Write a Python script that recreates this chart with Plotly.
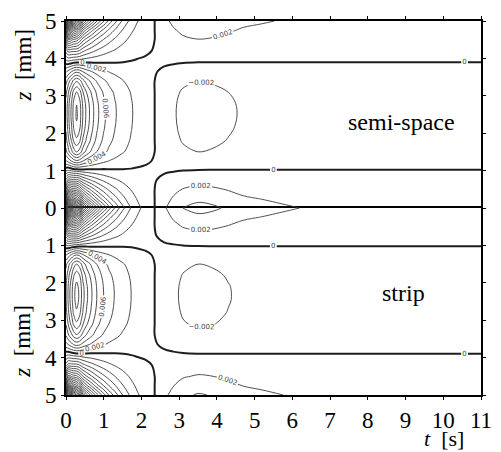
import numpy as np
import plotly.graph_objects as go

# ---- data (contour field factors) ----
t_nodes = [0, 0.05, 0.1, 0.15, 0.2, 0.28, 0.36, 0.45, 0.55, 0.68, 0.82, 1.0, 1.15, 1.3,
           1.5, 1.73, 1.9, 2.1, 2.35, 2.6, 2.85, 3.1, 3.5, 3.9, 4.3, 4.7, 5.2, 6, 7, 8, 9, 10, 11]
A_interior = [0.010, 0.012, 0.014, 0.0155, 0.0175, 0.019, 0.0178, 0.0148, 0.0125, 0.0102, 0.008,
              0.006, 0.0048, 0.0039, 0.0029, 0.002, 0.0014, 0.0008, 0.0, -0.001, -0.0017, -0.0023,
              -0.0027, -0.0025, -0.0021, -0.0017, -0.0015, -0.0012, -0.0009, -0.0007, -0.0006,
              -0.0005, -0.0004]
B_boundary = [0.03, 0.04, 0.035, 0.026, 0.018, 0.012, 0.009, 0.0075, 0.0073, 0.007, 0.0065,
              0.0055, 0.0042, 0.003, 0.0015, 0.0003, 0, 0, 0, 0, 0, 0, 0, 0, 0, 0, 0, 0, 0, 0,
              0, 0, 0]
C_saddle = [0, 0, 0, 0, 0, 0, 0, 0, 0, 0, 0, 0, 0, 0, 0.1, 0.4, 0.7, 0.9, 1.0, 0.9,
            0.6, 0.3, 0.05, 0, 0, 0, 0, 0, 0, 0, 0, 0, 0]

z_nodes = [0, 0.25, 0.5, 0.75, 1.02, 1.25, 1.5, 1.8, 2.1, 2.45, 2.8, 3.1, 3.4, 3.65, 3.9,
           4.2, 4.5, 4.75, 5.0]
g_semi = [-1.75, -1.3, -0.9, -0.48, 0.0, 0.4, 0.74, 0.92, 1.02, 1.07, 1.05, 0.95, 0.72, 0.4,
          0.0, -0.38, -0.72, -1.05, -1.45]
g_strip = [-1.75, -1.3, -0.9, -0.5, 0.0, 0.42, 0.74, 0.9, 0.98, 0.99, 0.93, 0.82, 0.62, 0.36,
           0.0, -0.4, -0.8, -1.15, -1.55]
h_boundary = [-1.0, -0.55, -0.28, -0.12, -0.04, -0.01, 0, 0, 0, 0, 0, 0, 0, -0.01, -0.03,
              -0.1, -0.28, -0.55, -1.0]
k_saddle = [0, 0, 0, -0.0001, -0.00028, -0.00012, 0, 0, 0, 0, 0, 0, 0, 0.00012, 0.00028,
            0.0001, 0, 0, 0]

x_ticks = list(range(0, 12))
z_ticks_top = [0, 1, 2, 3, 4, 5]
z_ticks_bottom = [1, 2, 3, 4, 5]

Z_semi = (np.outer(g_semi, A_interior) + np.outer(h_boundary, B_boundary)
          + np.outer(k_saddle, C_saddle))
Z_strip = (np.outer(g_strip, A_interior) + np.outer(h_boundary, B_boundary)
           + np.outer(k_saddle, C_saddle))

LINE = "#3c3c3c"
SERIF = "Liberation Serif, DejaVu Serif, Times New Roman, serif"


def traces(Z, xa, ya):
    specs = [
        dict(start=-0.09, end=-0.0039, labels=False, width=0.9, fmt=".3f"),
        dict(start=-0.002, end=-0.0019, labels=True, width=0.9, fmt=".3f"),
        dict(start=0.002, end=0.0061, labels=True, width=0.9, fmt=".3f"),
        dict(start=0.008, end=0.05, labels=False, width=0.9, fmt=".3f"),
        dict(start=0.0, end=0.0005, labels=True, width=2.0, fmt=".0f"),
    ]
    out = []
    for s in specs:
        out.append(go.Contour(
            x=t_nodes, y=z_nodes, z=Z, xaxis=xa, yaxis=ya,
            autocontour=False,
            contours=dict(start=s["start"], end=s["end"], size=0.002, coloring="none",
                          showlabels=s["labels"], labelformat=s["fmt"],
                          labelfont=dict(size=7, color="#444444", family="DejaVu Sans")),
            line=dict(color="#1e1e1e" if s["width"] > 1 else LINE, width=s["width"],
                      smoothing=1.0),
            showscale=False, hoverinfo="skip"))
    return out


fig = go.Figure(traces(Z_semi, "x2", "y2") + traces(Z_strip, "x", "y"))

axis_common = dict(showline=True, linewidth=2, linecolor="black", showgrid=False,
                   zeroline=False, ticks="outside", ticklen=3, tickwidth=1,
                   tickcolor="black", ticklabeloverflow="allow",
                   tickfont=dict(family=SERIF, size=23, color="black"))

txt_font = dict(family=SERIF, size=23, color="black")

fig.update_layout(
    width=501, height=452,
    margin=dict(l=66, r=10, t=9, b=57),
    paper_bgcolor="white", plot_bgcolor="white", showlegend=False,
    xaxis=dict(domain=[0, 1], anchor="y", range=[0, 11], tickvals=x_ticks, mirror=True,
               ticklabelstandoff=0, **axis_common),
    xaxis2=dict(domain=[0, 1], anchor="y2", range=[0, 11], tickvals=x_ticks, side="top",
                matches="x", mirror=False, showticklabels=False, **axis_common),
    yaxis=dict(domain=[0, 0.5], anchor="x", range=[5, 0], tickvals=z_ticks_bottom,
               mirror="ticks", **axis_common),
    yaxis2=dict(domain=[0.5, 1], anchor="x2", range=[0, 5], tickvals=z_ticks_top,
                mirror="ticks", **axis_common),
    annotations=[
        dict(text="<i>z</i>  [mm]", xref="paper", yref="paper", x=-0.1035, y=0.881,
             xanchor="center", yanchor="middle", textangle=-90, showarrow=False,
             font=txt_font),
        dict(text="<i>z</i>  [mm]", xref="paper", yref="paper", x=-0.1035, y=0.1425,
             xanchor="center", yanchor="middle", textangle=-90, showarrow=False,
             font=txt_font),
        dict(text="<i>t</i>  [s]", xref="paper", yref="paper", x=(453 - 66) / 425,
             y=1 - (440 - 9) / 386, xanchor="center", yanchor="middle", showarrow=False,
             font=dict(family=SERIF, size=22, color="black")),
        dict(text="semi-space", xref="paper", yref="paper", x=(410 - 66) / 425,
             y=1 - (113 - 9) / 386, xanchor="center", yanchor="middle", showarrow=False,
             font=dict(family=SERIF, size=24, color="black")),
        dict(text="strip", xref="paper", yref="paper", x=(412 - 66) / 425,
             y=1 - (290 - 9) / 386, xanchor="center", yanchor="middle", showarrow=False,
             font=dict(family=SERIF, size=24, color="black")),
    ],
)

fig.write_html("out.html")
